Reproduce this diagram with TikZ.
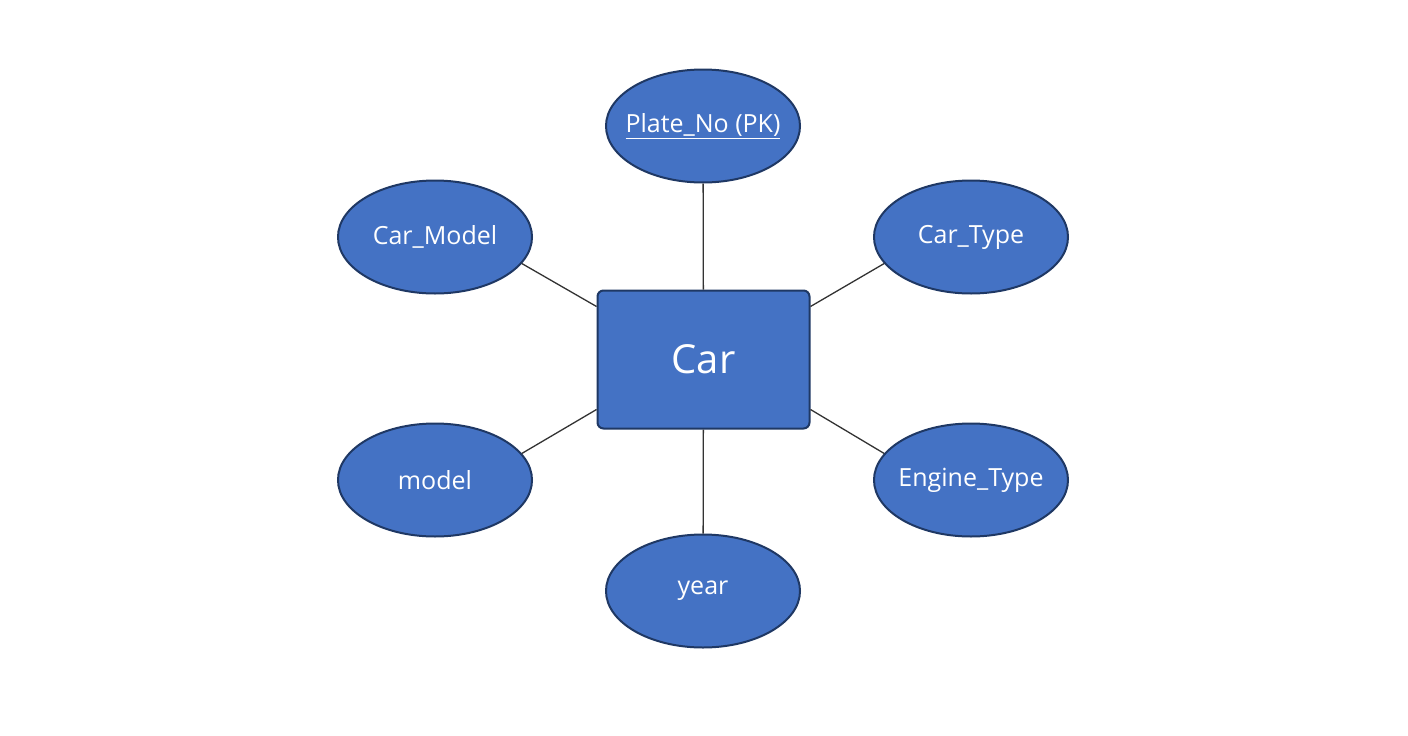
\documentclass[tikz,border=0pt]{standalone}
\usepackage{fontspec}
\setmainfont{Open Sans}
\usetikzlibrary{shapes.geometric}
\definecolor{attrblue}{HTML}{4472C4}
\definecolor{attredge}{HTML}{1F3864}
\definecolor{linkgray}{HTML}{333333}
\begin{document}
\begin{tikzpicture}[x=1pt,y=-1pt,line width=1.3pt,
  attr/.style={ellipse,draw=attredge,fill=attrblue,line width=2pt,inner ysep=0pt,inner xsep=-30pt,
    minimum width=194pt,minimum height=113pt,text=white,font=\fontsize{25}{29}\selectfont},
  entity/.style={rectangle,rounded corners=6pt,draw=attredge,fill=attrblue,line width=2pt,
    minimum width=212pt,minimum height=138pt,text=white,font=\fontsize{40}{46}\selectfont},
  link/.style={draw=linkgray,line width=1.3pt}]
\path[use as bounding box,fill=white] (0,0) rectangle (1408,736);
\node[entity] (car) at (703.5,359.5) {Car};
\node[attr] (plate) at (703,126) {\underline{Plate\_No (PK)}};
\node[attr] (carmodel) at (435,237) {Car\_Model};
\node[attr] (cartype) at (971,237) {Car\_Type};
\node[attr] (model) at (435,480) {model};
\node[attr] (engine) at (971,480) {Engine\_Type};
\node[attr] (year) at (703,591) {year};
\draw[link] (plate) -- (car);
\draw[link] (year) -- (car);
\draw[link] (carmodel.-17) -- ([yshift=53pt]car.west);
\draw[link] (cartype.197) -- ([yshift=53pt]car.east);
\draw[link] (model.17) -- ([yshift=-50pt]car.west);
\draw[link] (engine.163) -- ([yshift=-50pt]car.east);
\end{tikzpicture}
\end{document}
